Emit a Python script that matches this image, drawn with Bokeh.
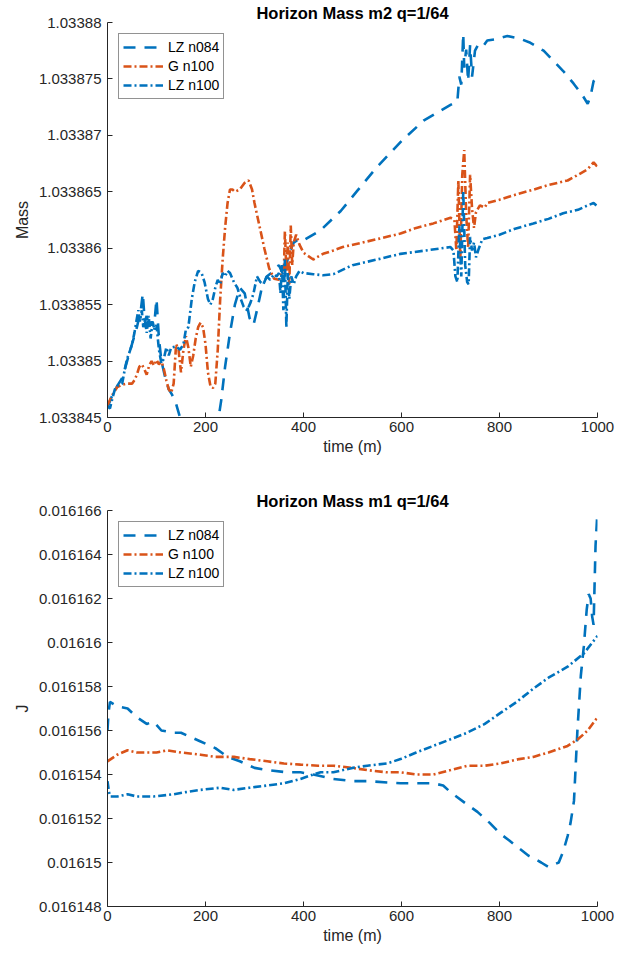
from bokeh.plotting import figure
from bokeh.layouts import column
from bokeh.models import Range1d, FixedTicker, CustomJSTickFormatter
from bokeh.embed import file_html
from bokeh.resources import INLINE

# ---------------- data ----------------
x_ticks = [0, 200, 400, 600, 800, 1000]
top_yticks = [1.033845, 1.03385, 1.033855, 1.03386, 1.033865, 1.03387, 1.033875, 1.03388]
bot_yticks = [0.016148, 0.01615, 0.016152, 0.016154, 0.016156, 0.016158, 0.01616, 0.016162, 0.016164, 0.016166]

# top: LZ n084
m2_t_lz084 = [0, 10, 20, 30, 40, 50, 60, 68, 72, 76, 80, 85, 90, 95, 100, 105, 110, 118, 125, 132, 140, 148,
              160, 180, 200, 215, 225, 232, 240, 250, 260, 270, 280, 290, 298, 305, 315, 325, 340, 350, 360,
              370, 380, 390, 400, 435, 476, 510, 550, 600, 645, 700, 714, 718, 722, 726, 728, 732, 736, 740,
              744, 750, 756, 765, 775, 790, 816, 840, 863, 890, 910, 930, 951, 970, 980, 986, 992, 1000]
m2_lz084 = [1.0338459, 1.033847, 1.0338478, 1.0338485, 1.03385, 1.0338515, 1.033853, 1.0338545, 1.033856,
            1.0338535, 1.033854, 1.033853, 1.0338535, 1.033853, 1.0338555, 1.033852, 1.03385, 1.0338485,
            1.0338475, 1.033847, 1.0338462, 1.033845, 1.033843, 1.033842, 1.033842, 1.033843, 1.0338445,
            1.0338465, 1.0338495, 1.0338525, 1.033855, 1.0338565, 1.033856, 1.0338538, 1.0338532, 1.0338545,
            1.0338565, 1.0338575, 1.033858, 1.0338585, 1.0338575, 1.0338595, 1.0338605, 1.0338608, 1.0338607,
            1.0338616, 1.0338633, 1.0338651, 1.0338672, 1.0338695, 1.0338713, 1.0338727, 1.033873, 1.0338752,
            1.0338745, 1.033879, 1.033876, 1.0338776, 1.0338748, 1.033878, 1.0338752, 1.0338775, 1.033878,
            1.0338778, 1.0338784, 1.0338785, 1.0338788, 1.0338786, 1.0338782, 1.0338775, 1.0338766, 1.0338757,
            1.0338746, 1.0338735, 1.0338728, 1.0338735, 1.0338748, 1.0338752]

# top: G n100
m2_t_g100 = [0, 10, 20, 30, 40, 50, 55, 60, 65, 70, 75, 80, 85, 90, 95, 100, 105, 110, 115, 120, 125, 130, 135,
             140, 145, 150, 155, 160, 165, 170, 175, 180, 185, 190, 195, 200, 205, 210, 215, 220, 225, 230, 235,
             240, 245, 250, 255, 260, 270, 280, 288, 295, 300, 310, 320, 330, 340, 350, 355, 360, 362, 365, 368,
             371, 374, 377, 380, 385, 392, 400, 420, 440, 461, 480, 510, 550, 598, 630, 665, 700, 708, 712, 716,
             720, 724, 728, 732, 736, 740, 744, 748, 752, 760, 770, 775, 800, 837, 870, 900, 939, 960, 980, 992, 1000]
m2_g100 = [1.0338461, 1.033847, 1.0338477, 1.0338479, 1.033848, 1.033848, 1.0338483, 1.0338488, 1.0338495,
           1.0338497, 1.0338493, 1.0338488, 1.0338496, 1.03385, 1.0338496, 1.0338501, 1.0338497, 1.03385,
           1.0338493, 1.0338483, 1.0338475, 1.0338472, 1.033848, 1.0338515, 1.033851, 1.033849, 1.033851,
           1.0338522, 1.0338512, 1.0338495, 1.0338505, 1.033852, 1.033853, 1.0338534, 1.033853, 1.0338515,
           1.033849, 1.0338478, 1.0338476, 1.033848, 1.033851, 1.0338555, 1.033859, 1.0338618, 1.033864,
           1.0338652, 1.0338652, 1.033865, 1.0338652, 1.0338658, 1.033866, 1.0338652, 1.033864, 1.033862,
           1.03386, 1.0338582, 1.0338573, 1.0338572, 1.0338577, 1.033858, 1.0338615, 1.033858, 1.0338605,
           1.0338568, 1.033862, 1.0338585, 1.0338605, 1.0338612, 1.0338603, 1.0338596, 1.033859, 1.0338595,
           1.0338598, 1.0338601, 1.0338604, 1.0338608, 1.0338613, 1.0338618, 1.0338622, 1.0338627, 1.0338625,
           1.0338598, 1.033866, 1.033859, 1.0338665, 1.0338687, 1.033863, 1.03386, 1.0338665, 1.0338635,
           1.0338618, 1.0338632, 1.0338638, 1.0338636, 1.033864, 1.0338643, 1.0338648, 1.0338652, 1.0338656,
           1.033866, 1.0338665, 1.033867, 1.0338676, 1.0338672]

# top: LZ n100
m2_t_lz100 = [0, 5, 10, 15, 20, 25, 30, 35, 40, 45, 50, 55, 60, 63, 66, 70, 73, 76, 80, 84, 88, 92, 96, 100, 105,
              110, 115, 120, 125, 130, 140, 148, 155, 160, 165, 172, 178, 185, 192, 198, 205, 210, 215, 220, 225,
              230, 235, 240, 245, 250, 258, 265, 272, 278, 285, 292, 298, 305, 312, 318, 325, 332, 340, 345, 350,
              353, 356, 359, 362, 365, 368, 371, 375, 380, 385, 392, 400, 420, 440, 461, 500, 550, 598, 650, 700,
              706, 710, 714, 718, 722, 726, 730, 734, 737, 740, 744, 748, 752, 758, 765, 775, 800, 830, 869, 900,
              930, 960, 980, 992, 1000]
m2_lz100 = [1.033846, 1.0338458, 1.0338467, 1.0338475, 1.0338478, 1.0338479, 1.033848, 1.0338492, 1.0338502,
            1.0338508, 1.0338515, 1.0338525, 1.0338538, 1.0338545, 1.0338535, 1.0338545, 1.033853, 1.0338538,
            1.0338525, 1.033854, 1.033852, 1.0338535, 1.0338528, 1.0338532, 1.033851, 1.0338498, 1.0338502,
            1.0338512, 1.0338505, 1.0338512, 1.0338513, 1.033851, 1.0338515, 1.0338528, 1.033853, 1.0338555,
            1.033857, 1.033858, 1.0338578, 1.033857, 1.0338555, 1.033855, 1.0338555, 1.0338565, 1.0338572,
            1.0338568, 1.0338578, 1.0338575, 1.033858, 1.0338578, 1.033857, 1.0338565, 1.0338555, 1.0338548,
            1.0338545, 1.0338552, 1.033856, 1.0338575, 1.033857, 1.0338568, 1.0338575, 1.0338572, 1.0338577,
            1.0338575, 1.0338578, 1.033856, 1.0338585, 1.0338545, 1.033859, 1.033853, 1.0338578, 1.0338555,
            1.0338575, 1.0338568, 1.0338575, 1.033858, 1.0338578, 1.0338577, 1.0338576, 1.0338577, 1.0338585,
            1.033859, 1.0338595, 1.0338598, 1.0338601, 1.0338598, 1.0338575, 1.033857, 1.033862, 1.0338575,
            1.0338651, 1.0338585, 1.033857, 1.0338568, 1.033861, 1.0338598, 1.0338605, 1.0338592, 1.03386,
            1.0338608, 1.0338609, 1.0338612, 1.0338617, 1.0338622, 1.0338626, 1.0338631, 1.0338634, 1.0338638,
            1.033864, 1.0338637]

# bottom: LZ n084
m1_t_lz084 = [0, 2, 5, 20, 41, 60, 80, 94, 110, 135, 150, 170, 190, 220, 245, 270, 300, 326, 367, 394, 420, 460,
              500, 530, 598, 665, 685, 700, 730, 755, 780, 802, 820, 837, 860, 869, 885, 900, 910, 921, 930, 939,
              945, 952, 959, 966, 972, 978, 982, 986, 989, 992, 996, 1000]
m1_lz084 = [0.016156, 0.0161568, 0.0161573, 0.0161571, 0.016157, 0.0161566, 0.0161563, 0.0161564, 0.016156,
            0.0161559, 0.0161559, 0.0161557, 0.0161555, 0.0161552, 0.0161548, 0.0161546, 0.0161543, 0.0161542,
            0.0161541, 0.0161541, 0.016154, 0.0161538, 0.0161537, 0.0161537, 0.0161536, 0.0161536, 0.0161535,
            0.0161532, 0.0161527, 0.0161523, 0.0161518, 0.0161513, 0.016151, 0.0161507, 0.0161503, 0.0161502,
            0.01615, 0.0161498, 0.0161499, 0.01615, 0.0161505, 0.0161512, 0.0161518, 0.0161528, 0.016156,
            0.0161585, 0.0161598, 0.0161615, 0.0161622, 0.016162, 0.0161612, 0.0161608, 0.0161644, 0.016166]

# bottom: G n100
m1_t_g100 = [0, 20, 41, 60, 80, 100, 122, 150, 190, 220, 258, 290, 326, 360, 394, 430, 461, 500, 530, 570, 598,
             630, 665, 700, 734, 770, 802, 840, 869, 900, 939, 960, 980, 1000]
m1_g100 = [0.0161546, 0.0161549, 0.0161551, 0.016155, 0.016155, 0.016155, 0.0161551, 0.016155, 0.0161549,
           0.0161548, 0.0161548, 0.0161547, 0.0161546, 0.0161545, 0.01615445, 0.0161544, 0.0161544, 0.0161543,
           0.0161542, 0.0161541, 0.0161541, 0.016154, 0.016154, 0.0161542, 0.0161544, 0.0161544, 0.0161545,
           0.0161547, 0.0161548, 0.016155, 0.0161553, 0.0161556, 0.016156, 0.0161566]

# bottom: LZ n100
m1_t_lz100 = [0, 3, 6, 20, 41, 60, 94, 135, 160, 190, 230, 258, 290, 326, 360, 394, 420, 435, 461, 500, 530, 570,
              598, 630, 665, 700, 734, 770, 802, 835, 869, 900, 939, 972, 1000]
m1_lz100 = [0.0161537, 0.0161532, 0.016153, 0.016153, 0.0161531, 0.016153, 0.016153, 0.0161531, 0.0161532,
            0.0161533, 0.0161534, 0.0161533, 0.0161534, 0.0161535, 0.0161536, 0.0161538, 0.016154, 0.0161541,
            0.0161541, 0.0161543, 0.0161544, 0.0161545, 0.0161547, 0.016155, 0.0161553, 0.0161556, 0.0161559,
            0.0161563, 0.0161568, 0.0161573, 0.0161579, 0.0161584, 0.0161589, 0.0161595, 0.0161603]

BLUE = "#0072BD"
ORANGE = "#D95319"
DASH = "12 9"
DASHDOT = "8 3 2 3"
FONT = "Liberation Sans"
AX = "#262626"


def style(p, ylabel, yticks, prec):
    p.title.align = "center"
    p.title.text_font = FONT
    p.title.text_font_size = "16.5px"
    p.title.text_font_style = "bold"
    p.title.text_color = "black"
    p.title.standoff = 1
    p.xgrid.visible = False
    p.ygrid.visible = False
    p.outline_line_color = None
    p.xaxis.ticker = FixedTicker(ticks=x_ticks)
    p.yaxis.ticker = FixedTicker(ticks=yticks)
    p.yaxis.formatter = CustomJSTickFormatter(
        code="return Number(tick.toPrecision(%d)).toString();" % prec)
    for ax in (p.xaxis[0], p.yaxis[0]):
        ax.axis_line_color = AX
        ax.major_tick_line_color = AX
        ax.major_tick_in = 5
        ax.major_tick_out = 0
        ax.minor_tick_line_color = None
        ax.major_label_text_font = FONT
        ax.major_label_text_font_size = "15px"
        ax.major_label_text_color = AX
        ax.axis_label_text_font = FONT
        ax.axis_label_text_font_size = "16px"
        ax.axis_label_text_font_style = "normal"
        ax.axis_label_text_color = AX
    p.xaxis.axis_label = "time (m)"
    p.xaxis.axis_label_standoff = 3
    p.xaxis.major_label_standoff = 4
    p.yaxis.axis_label = ylabel
    p.yaxis.major_label_standoff = 6
    p.legend.location = "top_left"
    p.legend.margin = 11
    p.legend.padding = 4
    p.legend.spacing = 1
    p.legend.glyph_width = 40
    p.legend.glyph_height = 18
    p.legend.label_height = 18
    p.legend.label_standoff = 5
    p.legend.label_text_font = FONT
    p.legend.label_text_font_size = "14px"
    p.legend.label_text_color = "black"
    p.legend.border_line_color = AX
    p.legend.border_line_width = 1
    p.legend.background_fill_alpha = 1


p1 = figure(width=639, height=479, output_backend="svg", toolbar_location=None,
            x_range=Range1d(0, 1000), y_range=Range1d(top_yticks[0], top_yticks[-1]),
            min_border_left=107, min_border_right=42, min_border_top=22, min_border_bottom=62,
            title="Horizon Mass m2 q=1/64")
p1.line(m2_t_lz084, m2_lz084, color=BLUE, line_width=2.6, line_dash=DASH, legend_label="LZ n084")
p1.line(m2_t_g100, m2_g100, color=ORANGE, line_width=2.6, line_dash=DASHDOT, legend_label="G n100")
p1.line(m2_t_lz100, m2_lz100, color=BLUE, line_width=2.6, line_dash=DASHDOT, legend_label="LZ n100")
style(p1, "Mass", top_yticks, 7)

p2 = figure(width=639, height=479, output_backend="svg", toolbar_location=None,
            x_range=Range1d(0, 1000), y_range=Range1d(bot_yticks[0], bot_yticks[-1]),
            min_border_left=107, min_border_right=42, min_border_top=31, min_border_bottom=52,
            title="Horizon Mass m1 q=1/64")
p2.line(m1_t_lz084, m1_lz084, color=BLUE, line_width=2.6, line_dash=DASH, legend_label="LZ n084")
p2.line(m1_t_g100, m1_g100, color=ORANGE, line_width=2.6, line_dash=DASHDOT, legend_label="G n100")
p2.line(m1_t_lz100, m1_lz100, color=BLUE, line_width=2.6, line_dash=DASHDOT, legend_label="LZ n100")
style(p2, "J", bot_yticks, 5)

layout = column(p1, p2, spacing=0)
open("out.html", "w").write(file_html(layout, INLINE))
